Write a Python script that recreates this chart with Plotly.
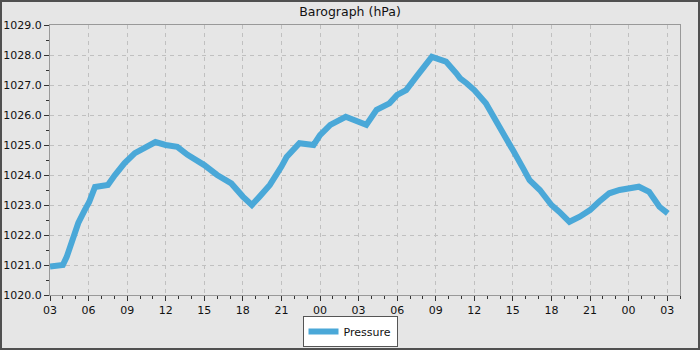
import plotly.graph_objects as go
from datetime import datetime, timedelta

# hours since 03:00 of day 1
hours = [0, 0.5, 1.0, 1.3, 1.7, 2.2, 2.7, 3.05, 3.5, 4.5, 5.05, 5.8, 6.6, 7.4, 8.2, 9.0,
         9.9, 10.7, 12.0, 13.0, 14.1, 15.0, 15.5, 15.7, 16.3, 17.1, 18.0, 18.4, 19.4,
         20.5, 21.0, 21.8, 23.0, 24.1, 24.6, 25.4, 26.4, 27.0, 27.7, 28.5, 29.3, 29.7,
         30.05, 30.8, 31.6, 31.9, 32.4, 33.0, 33.9, 34.7, 35.5, 36.0, 36.8, 37.3, 38.1,
         39.0, 39.6, 40.4, 41.2, 42.0, 42.7, 43.5, 44.3, 45.0, 45.8, 46.6, 47.4, 48.05]
pressure = [1020.95, 1021.0, 1021.0, 1021.27, 1021.83, 1022.4, 1022.83, 1023.1, 1023.6, 1023.67,
            1024.0, 1024.4, 1024.73, 1024.94, 1025.1, 1025.0, 1024.94, 1024.67, 1024.33,
            1024.0, 1023.72, 1023.28, 1023.05, 1023.0, 1023.28, 1023.67, 1024.28, 1024.6,
            1025.06, 1025.0, 1025.33, 1025.67, 1025.94, 1025.72, 1025.67, 1026.17, 1026.39,
            1026.67, 1026.83, 1027.28, 1027.72, 1027.94, 1027.89, 1027.78, 1027.39, 1027.22,
            1027.06, 1026.83, 1026.39, 1025.83, 1025.22, 1024.83, 1024.22, 1023.83, 1023.5,
            1023.0, 1022.78, 1022.44, 1022.61, 1022.83, 1023.11, 1023.39, 1023.5, 1023.56,
            1023.61, 1023.44, 1022.94, 1022.72]

start = datetime(2024, 1, 1, 3, 0)
times = [start + timedelta(hours=h) for h in hours]

fig = go.Figure()
fig.add_trace(go.Scatter(x=times, y=pressure, mode="lines", name="Pressure",
                         line=dict(color="#4aa8d8", width=6)))

W, H = 700, 350
L, R, T, B = 50, 20, 25, 55
pw, ph = W - L - R, H - T - B

fig.update_layout(
    width=W, height=H,
    margin=dict(l=L, r=R, t=T, b=B, autoexpand=False),
    paper_bgcolor="#e6e6e6", plot_bgcolor="#e6e6e6",
    font=dict(family="DejaVu Sans", size=11, color="#111"),
    title=dict(text="Barograph (hPa)", x=0.5, xanchor="center", y=1 - 12 / H,
               yanchor="middle", yref="container", font=dict(size=12.5, color="#111")),
    showlegend=True,
    legend=dict(orientation="h", x=(W / 2 - L) / pw, xanchor="center", yref="container",
                y=3 / H, yanchor="bottom", bgcolor="#ffffff", bordercolor="#555",
                borderwidth=1, font=dict(size=11), itemwidth=30),
    xaxis=dict(type="date", range=[start, start + timedelta(hours=49)],
               tick0=start, dtick=3 * 3600000, tickformat="%H", automargin=False,
               ticks="outside", ticklen=5, tickcolor="#333",
               showline=True, linecolor="#999", mirror=True,
               showgrid=True, gridcolor="#c0c0c0", griddash="4px,4px", gridwidth=1,
               minor=dict(dtick=3600000, tick0=start, ticks="outside", ticklen=3,
                          tickcolor="#333", showgrid=False),
               zeroline=False),
    yaxis=dict(range=[1020, 1029], dtick=1, tickformat=".1f", automargin=False,
               ticks="outside", ticklen=5, tickcolor="#333",
               showline=True, linecolor="#999", mirror=True,
               showgrid=True, gridcolor="#c0c0c0", griddash="4px,4px", gridwidth=1,
               minor=dict(dtick=0.5, ticks="outside", ticklen=3, tickcolor="#333",
                          showgrid=False),
               zeroline=False),
    shapes=[dict(type="rect", xref="paper", yref="paper",
                 x0=-(L - 1) / pw, x1=1 + (R - 1) / pw,
                 y0=-(B - 1) / ph, y1=1 + (T - 1) / ph,
                 line=dict(color="#505050", width=2), fillcolor="rgba(0,0,0,0)",
                 layer="above")],
)

fig.write_html("out.html", config={"displayModeBar": False},
               post_script="document.body.style.margin='0';document.body.style.padding='0';")
